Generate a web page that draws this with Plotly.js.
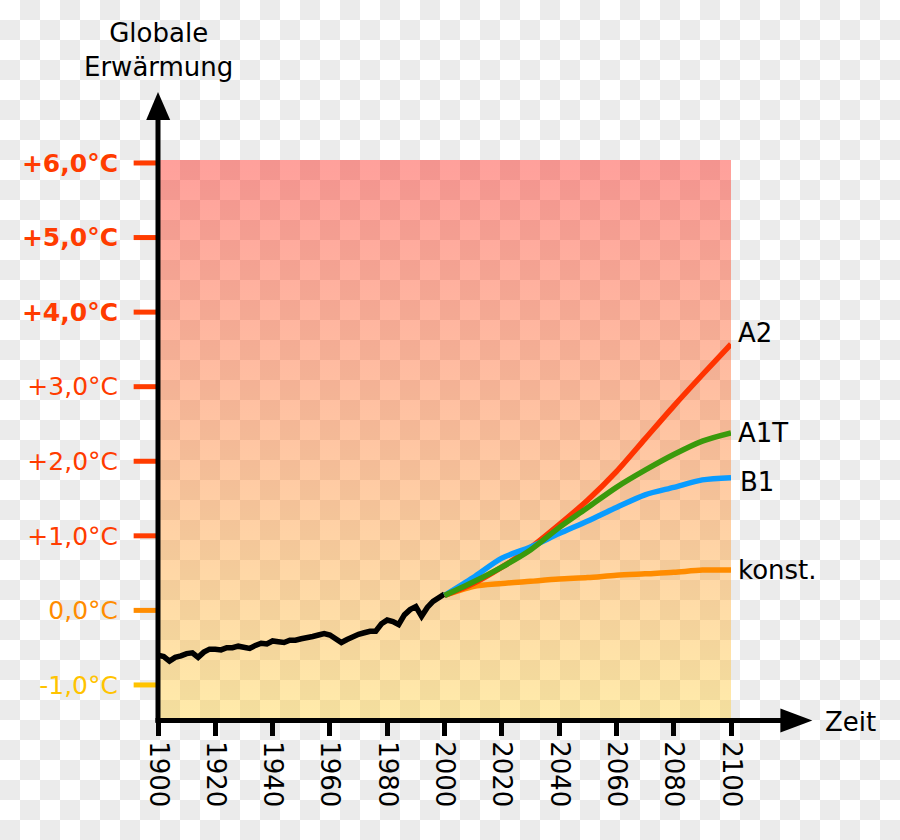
<!DOCTYPE html>
<html>
<head>
<meta charset="utf-8">
<script src="https://cdn.plot.ly/plotly-3.0.1.min.js"></script>
<style>
  html, body { margin: 0; padding: 0; }
  body {
    width: 900px; height: 840px;
    background: repeating-conic-gradient(#ebebeb 0% 25%, #ffffff 0% 50%) 0 0 / 40px 40px;
  }
  #chart { width: 900px; height: 840px; }
</style>
</head>
<body>
<div id="chart"></div>
<script>
// ---- Data ----
const histYears = [1900,1902,1904,1906,1908,1910,1912,1914,1916,1918,1920,1922,1924,1926,1928,1930,1932,1934,1936,1938,1940,1942,1944,1946,1948,1950,1952,1954,1956,1958,1960,1962,1964,1966,1968,1970,1972,1974,1976,1978,1980,1982,1984,1986,1988,1990,1992,1994,1996,1998,2000];
const histTemp  = [-0.60,-0.62,-0.68,-0.63,-0.61,-0.58,-0.57,-0.63,-0.56,-0.52,-0.52,-0.53,-0.50,-0.50,-0.48,-0.50,-0.51,-0.47,-0.44,-0.45,-0.41,-0.42,-0.43,-0.40,-0.40,-0.38,-0.37,-0.35,-0.33,-0.31,-0.33,-0.38,-0.43,-0.39,-0.35,-0.32,-0.30,-0.28,-0.28,-0.18,-0.13,-0.15,-0.19,-0.06,0.01,0.05,-0.08,0.04,0.12,0.17,0.22];

const projYears = [2000,2010,2020,2030,2040,2050,2060,2070,2080,2090,2100];
const tempA2    = [0.20,0.36,0.58,0.84,1.15,1.48,1.86,2.30,2.74,3.16,3.57];
const tempA1T   = [0.20,0.38,0.58,0.81,1.11,1.38,1.65,1.88,2.09,2.27,2.38];
const tempB1    = [0.20,0.44,0.70,0.85,1.03,1.20,1.38,1.55,1.65,1.75,1.78];
const tempKonst = [0.20,0.32,0.36,0.39,0.42,0.44,0.47,0.49,0.51,0.54,0.54];

const seriesNames = ['A2','A1T','B1','konst.'];

const yTickVals   = [6,5,4,3,2,1,0,-1];
const yTickLabels = ['+6,0°C','+5,0°C','+4,0°C','+3,0°C','+2,0°C','+1,0°C','0,0°C','-1,0°C'];
const xTickVals   = [1900,1920,1940,1960,1980,2000,2020,2040,2060,2080,2100];

const xRange = [1900, 2100];
const yRange = [-1.47, 6.04];

// ---- Styles ----
const RED = '#ff3c00', ORANGE = '#ff8c00', YELLOW = '#ffc300';
const yTickColors = [RED,RED,RED,RED,RED,RED,ORANGE,YELLOW];
const yTickBold   = [true,true,true,false,false,false,false,false];
const FONT = 'DejaVu Sans, Verdana, sans-serif';

const ticktext = yTickLabels.map((t,i) => {
  const inner = yTickBold[i] ? '<b>' + t + '</b>' : t;
  return '<span style="color:' + yTickColors[i] + '">' + inner + '</span>';
});

// background gradient area built from axis ranges
const bgTrace = {
  x: [xRange[0], xRange[1], xRange[1], xRange[0], xRange[0]],
  y: [yRange[0], yRange[0], yRange[1], yRange[1], yRange[0]],
  mode: 'lines', fill: 'toself',
  line: {width: 0, color: 'rgba(0,0,0,0)'},
  fillgradient: {
    type: 'vertical', start: yRange[0], stop: yRange[1],
    colorscale: [[0, 'rgba(255,205,42,0.4)'], [1, 'rgba(255,17,5,0.4)']]
  },
  hoverinfo: 'skip', showlegend: false
};

function line(x, y, color, shape) {
  return {x: x, y: y, mode: 'lines', line: {color: color, width: 5.5, shape: shape || 'linear', smoothing: 0.8}, showlegend: false, hoverinfo: 'skip'};
}

const traces = [
  bgTrace,
  line(histYears, histTemp, '#000000'),
  line(projYears, tempKonst, '#ff8c00', 'spline'),
  line(projYears, tempA2, '#ff3300', 'spline'),
  line(projYears, tempB1, '#0a9cff', 'spline'),
  line(projYears, tempA1T, '#3a9a0c', 'spline')
];

// ---- shapes: colored y ticks, axis lines with arrows ----
const shapes = [];
yTickVals.forEach((v,i) => {
  shapes.push({type:'line', xref:'paper', yref:'y', x0:-0.0425, x1:0, y0:v, y1:v, line:{color:yTickColors[i], width:5}});
});
// y axis line + arrowhead
shapes.push({type:'line', xref:'paper', yref:'paper', x0:0, x1:0, y0:-0.0045, y1:1.075, line:{color:'#000', width:5}});
shapes.push({type:'path', xref:'paper', yref:'paper', path:'M -0.0206 1.0714 L 0.0213 1.0714 L 0 1.1214 Z', fillcolor:'#000', line:{width:0}});
// x axis line + arrowhead
shapes.push({type:'line', xref:'paper', yref:'paper', x0:-0.0044, x1:1.0896, y0:-0.0009, y1:-0.0009, line:{color:'#000', width:5}});
shapes.push({type:'path', xref:'paper', yref:'paper', path:'M 1.0862 0.0205 L 1.0862 -0.0223 L 1.142 -0.0009 Z', fillcolor:'#000', line:{width:0}});

// ---- annotations ----
const lastVals = [tempA2, tempA1T, tempB1, tempKonst].map(a => a[a.length-1]);
const labelShiftY = [11, 0, -4, 0];
const labelShiftX = [5, 5, 7, 5];
const annotations = seriesNames.map((n,i) => ({
  xref:'x', yref:'y', x: projYears[projYears.length-1], y: lastVals[i],
  text: n, showarrow:false, xanchor:'left', yanchor:'middle',
  xshift: labelShiftX[i], yshift: labelShiftY[i],
  font:{family:FONT, size:26, color:'#000'}
}));
annotations.push({xref:'paper', yref:'paper', x:0, y:1.196, text:'Globale<br>Erwärmung', showarrow:false,
  xanchor:'center', yanchor:'middle', font:{family:FONT, size:26, color:'#000'}});
annotations.push({xref:'paper', yref:'paper', x:1.16, y:-0.004, text:'Zeit', showarrow:false,
  xanchor:'left', yanchor:'middle', font:{family:FONT, size:26, color:'#000'}});

const layout = {
  width: 900, height: 840,
  margin: {l:158, r:169, t:160, b:120, pad:0},
  paper_bgcolor: 'rgba(0,0,0,0)', plot_bgcolor: 'rgba(0,0,0,0)',
  showlegend: false,
  xaxis: {
    range: xRange, tickvals: xTickVals, ticktext: xTickVals.map(String),
    ticks:'outside', ticklen:15, tickwidth:5, tickcolor:'#000',
    tickangle: 90, tickfont:{family:FONT, size:26, color:'#000'},
    showgrid:false, zeroline:false, showline:false, fixedrange:true
  },
  yaxis: {
    range: yRange, tickvals: yTickVals, ticktext: ticktext,
    ticks:'outside', ticklen:34, tickwidth:1, tickcolor:'rgba(0,0,0,0)',
    tickfont:{family:FONT, size:25, color:RED},
    showgrid:false, zeroline:false, showline:false, fixedrange:true
  },
  shapes: shapes,
  annotations: annotations
};

Plotly.newPlot('chart', traces, layout, {displayModeBar:false, staticPlot:true});
</script>
</body>
</html>
